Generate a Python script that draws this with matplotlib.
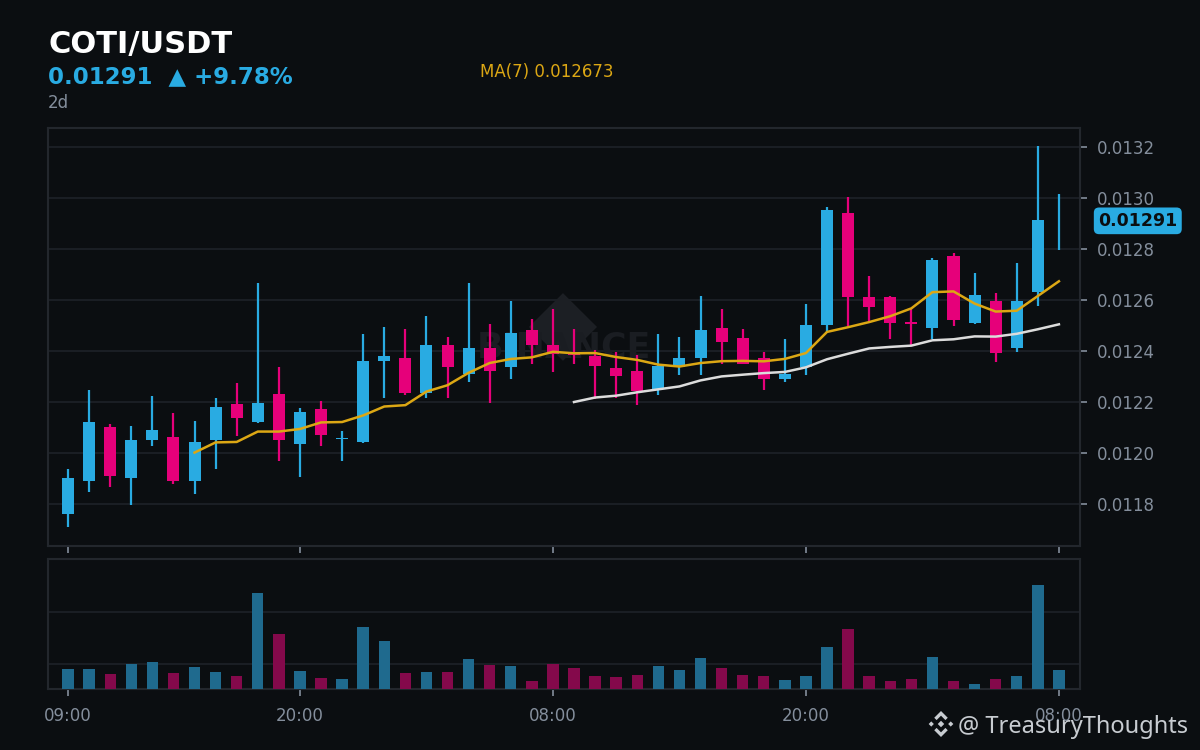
import numpy as np
import pandas as pd
import matplotlib
matplotlib.use("Agg")
import matplotlib.pyplot as plt
from matplotlib.patches import Polygon

plt.rcParams['font.family'] = ['DejaVu Sans']

# hourly candles, COTI/USDT, 2 days
opens = [0.011762, 0.011891, 0.012102, 0.011903, 0.012052, 0.012063, 0.011891, 0.012051,
         0.012192, 0.012123, 0.012231, 0.012033, 0.012173, 0.012054, 0.012044, 0.012362,
         0.012373, 0.012233, 0.012424, 0.012311, 0.012412, 0.012335, 0.012482, 0.012424,
         0.012393, 0.012380, 0.012333, 0.012322, 0.012252, 0.012335, 0.012374, 0.012490,
         0.012451, 0.012373, 0.012291, 0.012335, 0.012502, 0.012941, 0.012612, 0.012612,
         0.012508, 0.012491, 0.012773, 0.012511, 0.012596, 0.012413, 0.012631, 0.012910]
highs = [0.011937, 0.012247, 0.012113, 0.012106, 0.012224, 0.012156, 0.012126, 0.012215,
         0.012275, 0.012667, 0.012337, 0.012177, 0.012204, 0.012086, 0.012466, 0.012493,
         0.012485, 0.012537, 0.012454, 0.012666, 0.012505, 0.012595, 0.012524, 0.012564,
         0.012485, 0.012403, 0.012396, 0.012383, 0.012466, 0.012454, 0.012616, 0.012565,
         0.012486, 0.012396, 0.012447, 0.012584, 0.012965, 0.013004, 0.012694, 0.012616,
         0.012565, 0.012765, 0.012784, 0.012706, 0.012627, 0.012745, 0.013204, 0.013016]
lows = [0.011710, 0.011848, 0.011868, 0.011797, 0.012029, 0.011880, 0.011840, 0.011938,
        0.012068, 0.012119, 0.011970, 0.011907, 0.012029, 0.011970, 0.012039, 0.012217,
        0.012227, 0.012217, 0.012217, 0.012280, 0.012197, 0.012288, 0.012350, 0.012319,
        0.012350, 0.012211, 0.012217, 0.012189, 0.012229, 0.012307, 0.012307, 0.012350,
        0.012350, 0.012248, 0.012280, 0.012307, 0.012476, 0.012499, 0.012519, 0.012448,
        0.012425, 0.012448, 0.012499, 0.012507, 0.012358, 0.012397, 0.012578, 0.012797]
closes = [0.011901, 0.012122, 0.011911, 0.012051, 0.012090, 0.011891, 0.012043, 0.012180,
          0.012135, 0.012196, 0.012051, 0.012161, 0.012071, 0.012054, 0.012361, 0.012380,
          0.012233, 0.012424, 0.012335, 0.012412, 0.012323, 0.012471, 0.012425, 0.012386,
          0.012382, 0.012342, 0.012303, 0.012244, 0.012341, 0.012373, 0.012482, 0.012433,
          0.012350, 0.012291, 0.012310, 0.012502, 0.012953, 0.012612, 0.012573, 0.012511,
          0.012506, 0.012755, 0.012523, 0.012619, 0.012393, 0.012596, 0.012915, 0.012910]
volumes = [0.90, 0.90, 0.81, 1.00, 1.04, 0.83, 0.94, 0.85, 0.77, 2.37, 1.58, 0.87,
           0.73, 0.71, 1.71, 1.44, 0.83, 0.85, 0.85, 1.10, 0.98, 0.96, 0.67, 1.00,
           0.92, 0.77, 0.75, 0.79, 0.96, 0.88, 1.12, 0.92, 0.79, 0.77, 0.69, 0.77,
           1.33, 1.67, 0.77, 0.67, 0.71, 1.13, 0.67, 0.62, 0.71, 0.77, 2.52, 0.88]

tick_pos = [0, 11, 23, 35, 47]
tick_labels = ["09:00", "20:00", "08:00", "20:00", "08:00"]
price_ticks = [0.0118, 0.0120, 0.0122, 0.0124, 0.0126, 0.0128, 0.0130, 0.0132]

BG = '#0b0e11'
UP = '#29abe2'
DOWN = '#e6007a'
VOL_UP = '#1f6a8e'
VOL_DOWN = '#84094b'
GRID = '#1e2228'
SPINE = '#23272d'
GREY = '#848e9c'
MA7_C = '#dca714'
MA25_C = '#dcdcdc'


def px(x, y):
    """pixel -> figure coords"""
    return x / 1200, 1 - y / 750


def style_axes(ax):
    ax.set_facecolor(BG)
    for s in ax.spines.values():
        s.set_color(SPINE)
        s.set_linewidth(1.5)
    ax.tick_params(colors=GREY, labelsize=12, length=5, width=1.2)
    ax.set_xlim(-0.95, 48.0)
    ax.set_xticks(tick_pos)


def draw_candles(ax):
    n = len(opens)
    x = np.arange(n)
    w = 0.57
    min_h = 0.000006
    for i in range(n):
        up = closes[i] >= opens[i]
        c = UP if up else DOWN
        ax.vlines(x[i], lows[i], highs[i], color=c, lw=1.6, zorder=3)
        if i == n - 1:
            # current hour still forming, only the wick is shown
            continue
        bottom = min(opens[i], closes[i])
        h = max(abs(closes[i] - opens[i]), min_h)
        ax.bar(x[i], h, w, bottom=bottom, color=c, zorder=4)

    cl = pd.Series(closes)
    ma7 = cl.rolling(7).mean()
    ma25 = cl.rolling(25).mean()
    ax.plot(x, ma7, color=MA7_C, lw=1.8, zorder=5)
    ax.plot(x, ma25, color=MA25_C, lw=1.8, zorder=5)
    return ma7


def draw_logo(fig, cx, cy, s, color):
    # rough Binance mark from a few polygons, pixel units
    shapes = [
        [(0, 0.25), (0.25, 0), (0, -0.25), (-0.25, 0)],
        [(-0.75, 0.2), (-0.55, 0), (-0.75, -0.2), (-0.95, 0)],
        [(0.75, 0.2), (0.95, 0), (0.75, -0.2), (0.55, 0)],
        [(0, 1), (0.52, 0.48), (0.34, 0.3), (0, 0.64), (-0.34, 0.3), (-0.52, 0.48)],
        [(0, -1), (0.52, -0.48), (0.34, -0.3), (0, -0.64), (-0.34, -0.3), (-0.52, -0.48)],
    ]
    for sh in shapes:
        pts = [px(cx + a * s, cy - b * s) for a, b in sh]
        fig.add_artist(Polygon(pts, closed=True, fc=color, ec='none',
                               transform=fig.transFigure))


fig = plt.figure(figsize=(12, 7.5), dpi=100, facecolor=BG)
ax = fig.add_axes([48 / 1200, 1 - 546 / 750, 1032 / 1200, 418 / 750])
axv = fig.add_axes([48 / 1200, 1 - 689 / 750, 1032 / 1200, 130 / 750])

# price panel
style_axes(ax)
ax.set_ylim(0.011635, 0.013274)
ax.set_yticks(price_ticks)
ax.set_yticklabels([f"{p:.4f}" for p in price_ticks])
ax.yaxis.tick_right()
ax.tick_params(axis='y', pad=7)
ax.set_xticklabels([])
ax.grid(axis='y', color=GRID, lw=1.2)
ax.set_axisbelow(True)

# faint exchange watermark
cx, cy, dx, dy = 0.499, 0.524, 0.033, 0.081
ax.add_patch(Polygon([(cx, cy + dy), (cx + dx, cy), (cx, cy - dy), (cx - dx, cy)],
                     closed=True, fc='#1c1f24', ec='none', transform=ax.transAxes, zorder=1))
ax.text(0.5, 0.476, "BINANCE", transform=ax.transAxes, ha='center', va='center',
        fontsize=25, fontweight='bold', color='#1a1d22', zorder=1)

ma7 = draw_candles(ax)

last = closes[-1]
ax.text(1.056, last, f"{last:.5f}", transform=ax.get_yaxis_transform(),
        ha='center', va='center', fontsize=12.5, fontweight='bold', color='#0b0e11',
        bbox=dict(boxstyle='round,pad=0.25,rounding_size=0.3', fc=UP, ec='none'),
        clip_on=False)

# volume panel
style_axes(axv)
xs = np.arange(len(volumes))
vcol = [VOL_UP if closes[i] >= opens[i] else VOL_DOWN for i in range(len(volumes))]
axv.bar(xs, volumes, 0.54, color=vcol, zorder=3)
axv.set_ylim(0.52, 3.02)
axv.set_yticks([1, 2])
axv.tick_params(axis='y', length=0, labelleft=False)
axv.set_xticklabels(tick_labels)
axv.tick_params(axis='x', pad=8)
axv.grid(axis='y', color=GRID, lw=1.2)
axv.set_axisbelow(True)

# header
change = 9.78
fig.text(*px(49, 53), "COTI/USDT", color='white', fontsize=22, fontweight='bold')
fig.text(*px(48, 83), f"{last:.5f}  \u25b2 +{change:.2f}%", color=UP, fontsize=16.5,
         fontweight='bold')
fig.text(*px(48, 108), "2d", color=GREY, fontsize=12)
fig.text(*px(480, 77), f"MA(7) {ma7.iloc[-1]:.6f}", color=MA7_C, fontsize=12)

# signature
draw_logo(fig, 941, 724, 13, '#c8ccd1')
fig.text(*px(958, 733), "@ TreasuryThoughts", color='#c8ccd1', fontsize=17,
         family=['Noto Sans', 'DejaVu Sans'])

fig.savefig("out.png", dpi=100, facecolor=BG)
